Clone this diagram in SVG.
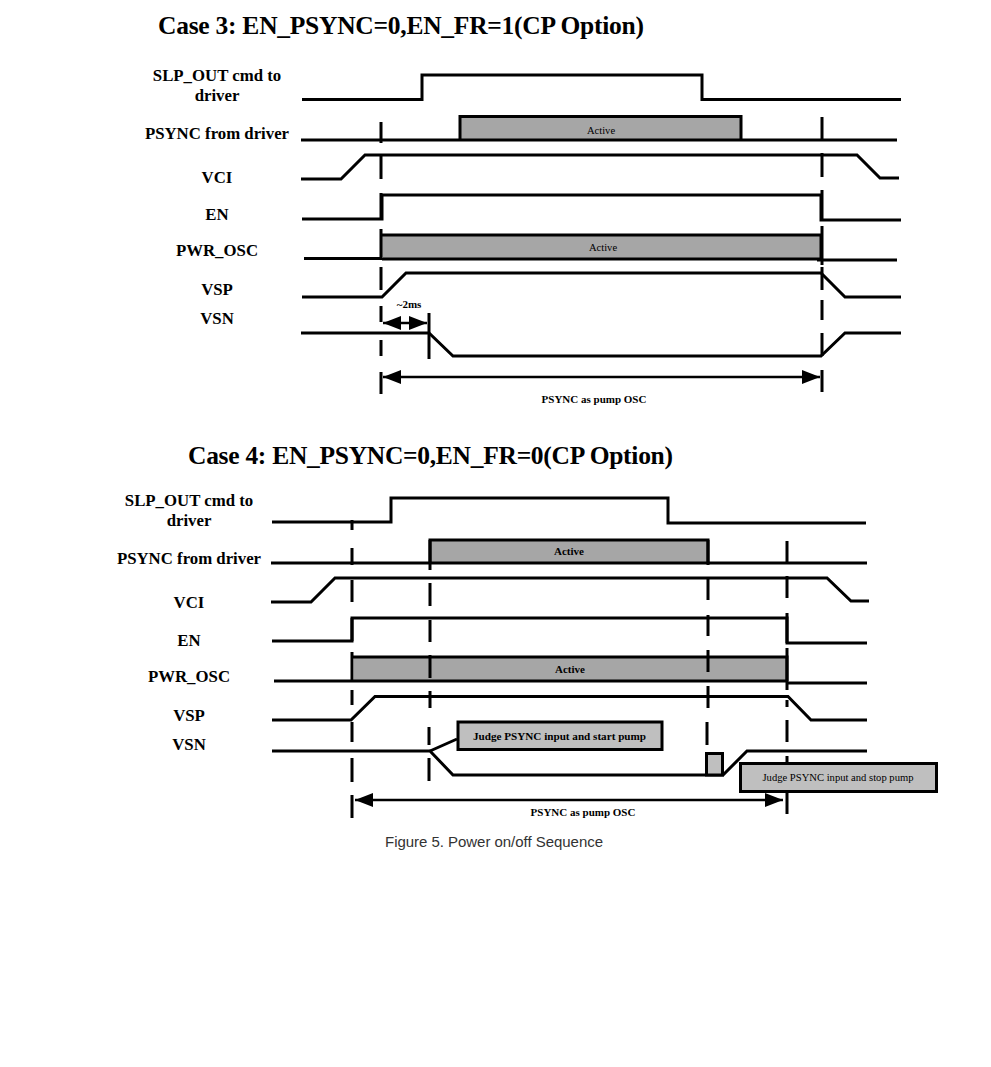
<svg xmlns="http://www.w3.org/2000/svg" width="991" height="1067" viewBox="0 0 991 1067">
<defs>
<marker id="ah" markerUnits="userSpaceOnUse" markerWidth="20" markerHeight="14" refX="18" refY="7" orient="auto-start-reverse"><path d="M0 0L18 7L0 14Z" fill="#000"/></marker>
</defs>
<style>
.w{fill:none;stroke:#000;stroke-width:3;stroke-linejoin:miter}
.d{fill:none;stroke:#000;stroke-width:3}
.f{fill:#a6a6a6;stroke:none}
.b{fill:#bfbfbf;stroke:#000;stroke-width:3}
.a{fill:none;stroke:#000;stroke-width:2.5}
text{font-family:"Liberation Serif","Times New Roman",serif;fill:#000}
.t{font-size:25.5px;font-weight:bold}
.l{font-size:16.8px;font-weight:bold;text-anchor:middle}
.s{font-size:11px;font-weight:bold;text-anchor:middle}
.n{font-size:10.6px;text-anchor:middle}
.c{font-family:"Liberation Sans",Arial,sans-serif;font-size:15px;fill:#333}
</style>
<rect width="991" height="1067" fill="#fff"/>
<g id="case3-title"><text class="t" x="158" y="34" textLength="486">Case 3: EN_PSYNC=0,EN_FR=1(CP Option)</text></g>
<g id="case3-labels">
<text class="l" x="217" y="81">SLP_OUT cmd to</text><text class="l" x="217" y="101">driver</text>
<text class="l" x="217" y="139">PSYNC from driver</text>
<text class="l" x="217" y="183">VCI</text>
<text class="l" x="217" y="220">EN</text>
<text class="l" x="217" y="256">PWR_OSC</text>
<text class="l" x="217" y="295">VSP</text>
<text class="l" x="217" y="324">VSN</text>
</g>
<g id="case3-fills">
<rect class="f" x="460" y="116" width="281" height="24"/>
<rect class="f" x="382" y="235" width="439" height="24"/>
</g>
<g id="case3-connectors">
<path class="w" d="M302 99.500H422V75H702V99.500H901"/>
<path class="w" d="M301 140H897M460 140V116.500H741V140"/>
<path class="w" d="M301 179L341 179L365 155H857L880 178H899"/>
<path class="w" d="M302 219H382V195H821V220H901"/>
<path class="w" d="M382 235H821V259M382 259H820M304 258.500H382M817 260H897"/>
<path class="w" d="M302 297H382L406 273H821L845 297H901"/>
<path class="w" d="M301 333H429L453 356H821L845 333H901"/>
<path class="d" d="M381 122V143M381 156V179M381 193V219M381 229V257M381 267V290M381 306V322M381 340V356M381 372V394"/>
<path class="d" d="M822 117V140M822 153V177M822 190V220M822 226V265M822 267V290M822 300V320M822 333V356M822 370V392"/>
<path class="d" d="M429 313V359"/>
<path class="a" d="M383 323H427" marker-start="url(#ah)" marker-end="url(#ah)"/>
<path class="a" d="M383 377H820" marker-start="url(#ah)" marker-end="url(#ah)"/>
</g>
<g id="case3-notes">
<text class="n" x="601" y="134">Active</text>
<text class="n" x="603" y="251">Active</text>
<text class="s" x="409" y="308">~2ms</text>
<text class="s" x="594" y="403">PSYNC as pump OSC</text>
</g>
<g id="case4-title"><text class="t" x="188" y="464" textLength="485">Case 4: EN_PSYNC=0,EN_FR=0(CP Option)</text></g>
<g id="case4-labels">
<text class="l" x="189" y="506">SLP_OUT cmd to</text><text class="l" x="189" y="526">driver</text>
<text class="l" x="189" y="564">PSYNC from driver</text>
<text class="l" x="189" y="608">VCI</text>
<text class="l" x="189" y="646">EN</text>
<text class="l" x="189" y="682">PWR_OSC</text>
<text class="l" x="189" y="721">VSP</text>
<text class="l" x="189" y="750">VSN</text>
</g>
<g id="case4-fills">
<rect class="f" x="430" y="540" width="278" height="23"/>
<rect class="f" x="354" y="657" width="433" height="24"/>
</g>
<g id="case4-connectors">
<path class="w" d="M272 522H391V498H668V523H866"/>
<path class="w" d="M271 563H867M430 563V540H708V563"/>
<path class="w" d="M271 602H311L335 578H827L851 601H869"/>
<path class="w" d="M272 641H352V618H787V643H867"/>
<path class="w" d="M353 657H787V681M353 681H787M274 681H353M787 683H867"/>
<path class="w" d="M272 720H351L375 696.500H788L811 720H867"/>
<path class="w" d="M272 751H430L453 775H723L747 751H867"/>
<path class="w" d="M430 751L457 739"/>
<path class="d" d="M352 520V530M352 548V565M352 580V602M352 618V641M352 652V682M352 690V705M352 722V742M352 758V782M352 795V818"/>
<path class="d" d="M430 540V570M430 583V606M430 620V642M430 655V678M430 691V708M429 727V745M429 758V781"/>
<path class="d" d="M708 540V565M708 578V600M708 615V636M708 650V672M708 686V708M707 722V745"/>
<path class="d" d="M787 541V562M787 576V598M787 613V643M787 648V690M787 700V707M787 720V742M787 756V763M787 792V814"/>
<path class="a" d="M355 800H783" marker-start="url(#ah)" marker-end="url(#ah)"/>
</g>
<g id="case4-boxes">
<rect class="b" x="458" y="722" width="204" height="27.500"/>
<rect class="b" x="706.500" y="753.500" width="16" height="21.500"/>
<rect class="b" x="740.500" y="763.500" width="196" height="28"/>
</g>
<g id="case4-notes">
<text class="s" x="569" y="555">Active</text>
<text class="s" x="570" y="673">Active</text>
<text class="s" x="559.500" y="740" style="font-size:11.150px">Judge PSYNC input and start pump</text>
<text class="n" x="838" y="781">Judge PSYNC input and stop pump</text>
<text class="s" x="583" y="816">PSYNC as pump OSC</text>
</g>
<g id="caption"><text class="c" x="385" y="847" textLength="218">Figure 5. Power on/off Sequence</text></g>
</svg>
